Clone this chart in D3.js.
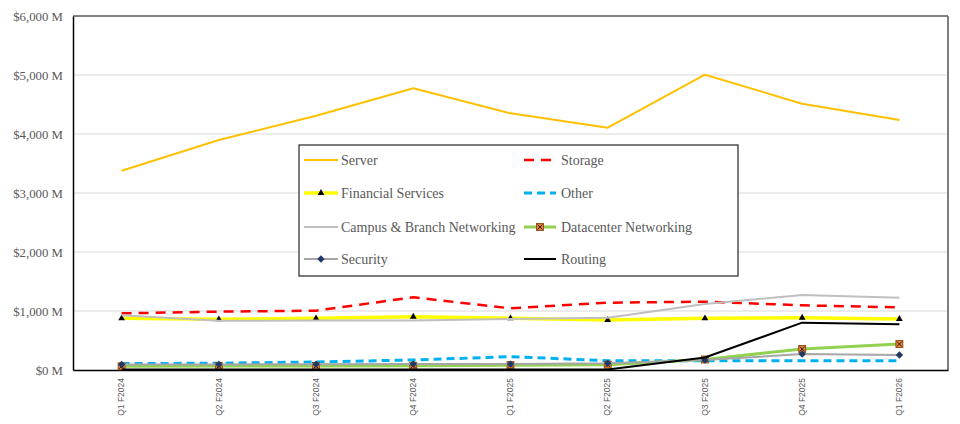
<!DOCTYPE html>
<html><head><meta charset="utf-8">
<script src="https://cdn.jsdelivr.net/npm/d3@7"></script>
<style>body{margin:0;background:#fff}svg{display:block}</style>
</head><body><svg id="c" width="960" height="424"></svg>
<script>
const quarters = ["Q1 F2024","Q2 F2024","Q3 F2024","Q4 F2024","Q1 F2025","Q2 F2025","Q3 F2025","Q4 F2025","Q1 F2026"];
const yTicks = [0,1000,2000,3000,4000,5000,6000];
const server     = [3378,3898,4310,4774,4350,4107,5005,4514,4237];
const storage    = [960,989,1006,1232,1045,1141,1158,1096,1062];
const financial  = [876,859,876,904,876,847,876,887,864];
const other      = [108,115,136,170,226,158,155,158,158];
const campus     = [930,836,838,840,864,887,1119,1271,1226];
const datacenter = [62,66,68,72,82,90,178,356,441];
const security   = [93,95,98,100,100,113,168,271,254];
const routing    = [8,8,8,8,8,8,212,802,774];

const series = [
  {name:"Server", values:server, color:"#FFC000", width:2},
  {name:"Storage", values:storage, color:"#FF0000", width:2.5, dash:"10,7"},
  {name:"Financial Services", values:financial, color:"#FFFF00", width:3.5, marker:"tri"},
  {name:"Other", values:other, color:"#00B0F0", width:3, dash:"8,5"},
  {name:"Campus & Branch Networking", values:campus, color:"#BFBFBF", width:2},
  {name:"Datacenter Networking", values:datacenter, color:"#92D050", width:3, marker:"sq"},
  {name:"Security", values:security, color:"#A6A6A6", width:2, marker:"dia"},
  {name:"Routing", values:routing, color:"#000000", width:2}
];

const svg = d3.select("#c");
const L=73, R=948, T=16, B=370;
const x = d3.scaleBand().domain(quarters).range([L,R]);
const cx = d => x(d)+x.bandwidth()/2;
const y = d3.scaleLinear().domain([0,6000]).range([B,T]);

svg.append("g").selectAll("line").data(yTicks.slice(1,-1)).join("line")
  .attr("x1",L).attr("x2",R).attr("y1",d=>y(d)).attr("y2",d=>y(d))
  .attr("stroke","#D9D9D9").attr("stroke-width",1);

svg.append("line").attr("x1",L).attr("x2",R).attr("y1",T).attr("y2",T).attr("stroke","#595959").attr("stroke-width",1.5);
svg.append("line").attr("x1",R).attr("x2",R).attr("y1",T).attr("y2",B).attr("stroke","#7F7F7F").attr("stroke-width",2);

const ya = svg.append("g").attr("transform",`translate(${L},0)`)
  .call(d3.axisLeft(y).tickValues(yTicks).tickSize(0).tickPadding(10).tickFormat(d=>"$"+d3.format(",")(d)+" M"));
ya.select(".domain").attr("stroke","#000").attr("stroke-width",1.5);
ya.selectAll("text").attr("font-family","Liberation Serif, serif").attr("font-size","12.8px").attr("fill","#595959");

const xa = svg.append("g").attr("transform",`translate(0,${B})`)
  .call(d3.axisBottom(x).tickSize(0).tickPadding(0));
xa.select(".domain").attr("stroke","#000").attr("stroke-width",1.5);
xa.selectAll("text").attr("font-family","Liberation Sans, Arial, sans-serif").attr("font-size","8.5px").attr("fill","#595959")
  .attr("transform","rotate(-90)").attr("text-anchor","end").attr("dy","0.32em").attr("x",-8).attr("y",0);

const line = d3.line().x((d,i)=>cx(quarters[i])).y(d=>y(d));

function drawMarker(g, type, px, py){
  if(type==="tri"){
    g.append("path").attr("d",d3.symbol(d3.symbolTriangle,20)()).attr("transform",`translate(${px},${py})`).attr("fill","#000");
  } else if(type==="sq"){
    g.append("rect").attr("x",px-3.5).attr("y",py-3.5).attr("width",7).attr("height",7).attr("fill","#ED7D31").attr("stroke","#7F3F00").attr("stroke-width",0.8);
    g.append("path").attr("d",`M${px-2.5},${py-2.5}L${px+2.5},${py+2.5}M${px+2.5},${py-2.5}L${px-2.5},${py+2.5}`).attr("stroke","#222").attr("stroke-width",1);
  } else if(type==="dia"){
    g.append("rect").attr("x",-2.6).attr("y",-2.6).attr("width",5.2).attr("height",5.2)
      .attr("transform",`translate(${px},${py}) rotate(45)`).attr("fill","#1F3864");
  }
}

series.forEach(s=>{
  const g = svg.append("g");
  g.append("path").attr("d",line(s.values)).attr("fill","none").attr("stroke",s.color)
    .attr("stroke-width",s.width).attr("stroke-dasharray",s.dash||null).attr("stroke-linejoin","round");
  if(s.marker) s.values.forEach((v,i)=>drawMarker(g,s.marker,cx(quarters[i]),y(v)));
});

const lg = svg.append("g");
lg.append("rect").attr("x",299).attr("y",145).attr("width",439).attr("height",131).attr("fill","#fff").attr("stroke","#262626").attr("stroke-width",1.2);
const colX = [[304,338,341],[524,556,561]];
const rowY = [160,193,227,259];
series.forEach((s,i)=>{
  const c = colX[i%2], ry = rowY[Math.floor(i/2)];
  lg.append("line").attr("x1",c[0]).attr("x2",c[1]).attr("y1",ry).attr("y2",ry)
    .attr("stroke",s.color).attr("stroke-width",s.width).attr("stroke-dasharray",s.dash||null);
  if(s.marker) drawMarker(lg,s.marker,(c[0]+c[1])/2,ry);
  lg.append("text").attr("x",c[2]).attr("y",ry).attr("dy","0.35em").text(s.name)
    .attr("font-family","Liberation Serif, serif").attr("font-size","14px").attr("fill","#595959");
});
</script></body></html>
